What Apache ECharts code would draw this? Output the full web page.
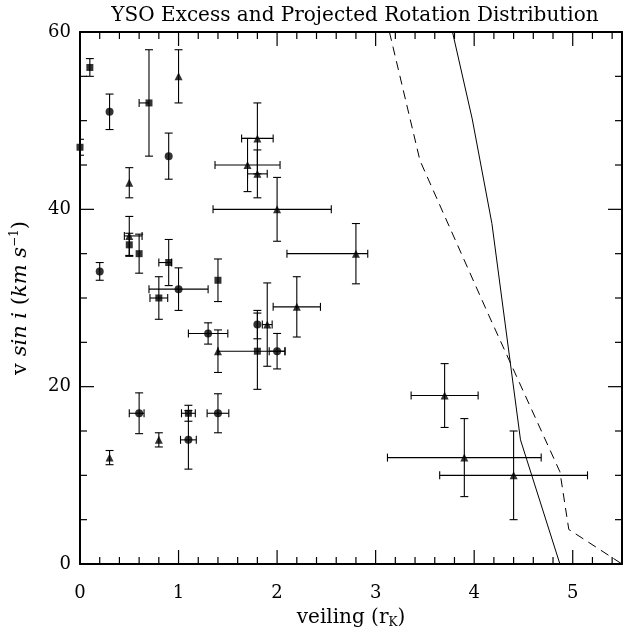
<!DOCTYPE html>
<html>
<head>
<meta charset="utf-8">
<script src="https://cdn.jsdelivr.net/npm/echarts@6/dist/echarts.min.js"></script>
<style>
  html, body { margin: 0; padding: 0; background: #fff; }
  #chart { width: 625px; height: 634px; }
</style>
</head>
<body>
<div id="chart"></div>
<script>
// rows: [veiling, vsini, xErrMinus, xErrPlus, yErrMinus, yErrPlus]
var squares = [
  [0.1, 56, 0, 0, 1, 1],
  [0.0, 47, 0, 0, 0.9, 0.9],
  [0.7, 52, 0.1, 0, 6, 6],
  [0.5, 36, 0, 0, 1.3, 1.3],
  [0.6, 35, 0, 0, 2.2, 2.2],
  [0.9, 34, 0.1, 0.03, 2.6, 2.6],
  [0.8, 30, 0.09, 0.09, 2.4, 2.4],
  [1.4, 32, 0, 0, 2.4, 2.4],
  [1.8, 24, 0.4, 0.28, 4.3, 4.3],
  [1.1, 17, 0.07, 0.07, 0.9, 0.9]
];
var circles = [
  [0.3, 51, 0, 0, 2, 2],
  [0.9, 46, 0, 0, 2.6, 2.6],
  [0.2, 33, 0, 0, 1, 1],
  [1.0, 31, 0.3, 0.3, 2.4, 2.4],
  [1.3, 26, 0.2, 0.2, 1.2, 1.2],
  [1.8, 27, 0, 0, 1.6, 1.6],
  [2.0, 24, 0.08, 0.08, 2, 2],
  [0.6, 17, 0.1, 0.05, 2.3, 2.3],
  [1.4, 17, 0.11, 0.11, 2.2, 2.2],
  [1.1, 14, 0.08, 0.08, 3.3, 3.3]
];
var triangles = [
  [1.0, 55, 0, 0, 3, 3],
  [0.5, 43, 0, 0, 1.7, 1.7],
  [1.8, 48, 0.16, 0.16, 4, 4],
  [1.7, 45, 0.33, 0.33, 3, 3],
  [1.8, 44, 0.1, 0.1, 2.7, 2.7],
  [2.0, 40, 0.65, 0.55, 3.6, 3.6],
  [2.8, 35, 0.7, 0.12, 3.4, 3.4],
  [0.5, 37, 0.05, 0.13, 2.2, 2.2],
  [2.2, 29, 0.24, 0.24, 3.4, 3.4],
  [1.9, 27, 0.05, 0.05, 4.7, 4.7],
  [1.4, 24, 0, 0, 2.4, 2.4],
  [0.3, 12, 0, 0, 0.8, 0.8],
  [0.8, 14, 0, 0, 0.8, 0.8],
  [3.7, 19, 0.34, 0.34, 3.6, 3.6],
  [3.9, 12, 0.78, 0.78, 4.4, 4.4],
  [4.4, 10, 0.75, 0.75, 5, 5]
];
// model curves
var solidCurve = [[3.78, 60], [3.98, 50.2], [4.18, 38.4], [4.47, 14], [4.87, 0]];
var dashedCurve = [[3.14, 60], [3.45, 45.5], [4.15, 28], [4.87, 10.4], [4.96, 3.9], [5.5, 0]];

// tick positions (drawn inward on all four sides)
var xMajorTicks = [1, 2, 3, 4, 5];
var xMinorTicks = [0.2, 0.4, 0.6, 0.8, 1.2, 1.4, 1.6, 1.8, 2.2, 2.4, 2.6, 2.8,
  3.2, 3.4, 3.6, 3.8, 4.2, 4.4, 4.6, 4.8, 5.2, 5.4];
var yMajorTicks = [20, 40];
var yMinorTicks = [5, 10, 15, 25, 30, 35, 45, 50, 55];

var serif = 'DejaVu Serif';
var chart = echarts.init(document.getElementById('chart'));

function errorBars(params, api) {
  var x = api.value(0), y = api.value(1);
  var xl = api.value(2), xh = api.value(3), yl = api.value(4), yh = api.value(5);
  var cap = 4;
  var st = { stroke: '#000', lineWidth: 1.1 };
  var kids = [];
  if (yl || yh) {
    var a = api.coord([x, y - yl]), b = api.coord([x, y + yh]);
    kids.push({ type: 'line', shape: { x1: a[0], y1: a[1], x2: b[0], y2: b[1] }, style: st });
    kids.push({ type: 'line', shape: { x1: a[0] - cap, y1: a[1], x2: a[0] + cap, y2: a[1] }, style: st });
    kids.push({ type: 'line', shape: { x1: b[0] - cap, y1: b[1], x2: b[0] + cap, y2: b[1] }, style: st });
  }
  if (xl || xh) {
    var c = api.coord([x - xl, y]), d = api.coord([x + xh, y]);
    kids.push({ type: 'line', shape: { x1: c[0], y1: c[1], x2: d[0], y2: d[1] }, style: st });
    if (xl) kids.push({ type: 'line', shape: { x1: c[0], y1: c[1] - cap, x2: c[0], y2: c[1] + cap }, style: st });
    if (xh) kids.push({ type: 'line', shape: { x1: d[0], y1: d[1] - cap, x2: d[0], y2: d[1] + cap }, style: st });
  }
  return { type: 'group', children: kids };
}

// ticks: bottom+top for x values, left+right for y values
function tickMarks(params, api) {
  var cs = params.coordSys;
  var isX = api.value(3) === 1;
  var len = api.value(2);
  var st = { stroke: '#000', lineWidth: 1.2 };
  if (isX) {
    var px = api.coord([api.value(0), 0])[0];
    return { type: 'group', children: [
      { type: 'line', shape: { x1: px, y1: cs.y + cs.height, x2: px, y2: cs.y + cs.height - len }, style: st },
      { type: 'line', shape: { x1: px, y1: cs.y, x2: px, y2: cs.y + len }, style: st }
    ] };
  }
  var py = api.coord([0, api.value(1)])[1];
  return { type: 'group', children: [
    { type: 'line', shape: { x1: cs.x, y1: py, x2: cs.x + len, y2: py }, style: st },
    { type: 'line', shape: { x1: cs.x + cs.width, y1: py, x2: cs.x + cs.width - len, y2: py }, style: st }
  ] };
}

var tickRows = []
  .concat(xMajorTicks.map(function (v) { return [v, 0, 14, 1]; }))
  .concat(xMinorTicks.map(function (v) { return [v, 0, 7, 1]; }))
  .concat(yMajorTicks.map(function (v) { return [0, v, 14, 0]; }))
  .concat(yMinorTicks.map(function (v) { return [0, v, 7, 0]; }));

function errSeries(rows) {
  return {
    type: 'custom', renderItem: errorBars, data: rows,
    encode: { x: 0, y: 1 }, clip: true, silent: true, z: 2
  };
}
function markSeries(rows, sym, size) {
  return {
    type: 'scatter', data: rows.map(function (r) { return [r[0], r[1]]; }),
    symbol: sym, symbolSize: size, itemStyle: { color: '#000' }, z: 3, clip: false
  };
}

function ax(pos, max, step, labels, margin) {
  return {
    type: 'value', position: pos, min: 0, max: max, interval: step,
    axisLine: { show: true, onZero: false, lineStyle: { color: '#000', width: 2 } },
    splitLine: { show: false },
    axisTick: { show: false },
    minorTick: { show: false },
    axisLabel: {
      show: labels, margin: margin, color: '#000', fontFamily: serif, fontSize: 18,
      formatter: function (v) { return v === 5.5 ? '' : v + ''; }
    }
  };
}

var xBottom = ax('bottom', 5.5, 1, true, 20);
xBottom.name = 'veiling (r{sub|K})';
xBottom.nameLocation = 'middle';
xBottom.nameGap = 43;
xBottom.nameTextStyle = {
  color: '#000', fontFamily: serif, fontSize: 20,
  rich: { sub: { fontFamily: serif, fontSize: 12, color: '#000', padding: [10, 0, 0, 0] } }
};

var yLeft = ax('left', 60, 20, true, 9);
yLeft.name = '{n|v} {i|sin i} {n|(}{i|km s}{sup|−1}{n|)}';
yLeft.nameLocation = 'middle';
yLeft.nameGap = 47;
yLeft.nameRotate = 90;
yLeft.nameTextStyle = {
  color: '#000', fontFamily: serif, fontSize: 21,
  rich: {
    i: { fontFamily: serif, fontStyle: 'italic', fontSize: 21, color: '#000' },
    n: { fontFamily: serif, fontSize: 21, color: '#000' },
    sup: { fontFamily: serif, fontSize: 12, color: '#000', padding: [0, 0, 12, 0] }
  }
};

chart.setOption({
  animation: false,
  backgroundColor: '#fff',
  title: {
    text: 'YSO Excess and Projected Rotation Distribution',
    left: 350, top: 1, textAlign: 'center',
    textStyle: { color: '#000', fontFamily: serif, fontWeight: 'normal', fontSize: 20 }
  },
  grid: { left: 80, right: 3, top: 32, bottom: 62 },
  xAxis: [xBottom, ax('top', 5.5, 1, false, 8)],
  yAxis: [yLeft, ax('right', 60, 20, false, 8)],
  series: [
    {
      type: 'custom', renderItem: tickMarks, data: tickRows,
      encode: { x: 0, y: 1 }, clip: false, silent: true, z: 4
    },
    errSeries(squares), errSeries(circles), errSeries(triangles),
    markSeries(squares, 'rect', 7),
    markSeries(circles, 'circle', 8),
    markSeries(triangles, 'triangle', 8),
    {
      type: 'line', data: solidCurve, showSymbol: false, symbol: 'none',
      lineStyle: { color: '#000', width: 1 }, z: 1
    },
    {
      type: 'line', data: dashedCurve, showSymbol: false, symbol: 'none',
      lineStyle: { color: '#000', width: 1, type: [9, 6] }, z: 1
    }
  ]
});
</script>
</body>
</html>
